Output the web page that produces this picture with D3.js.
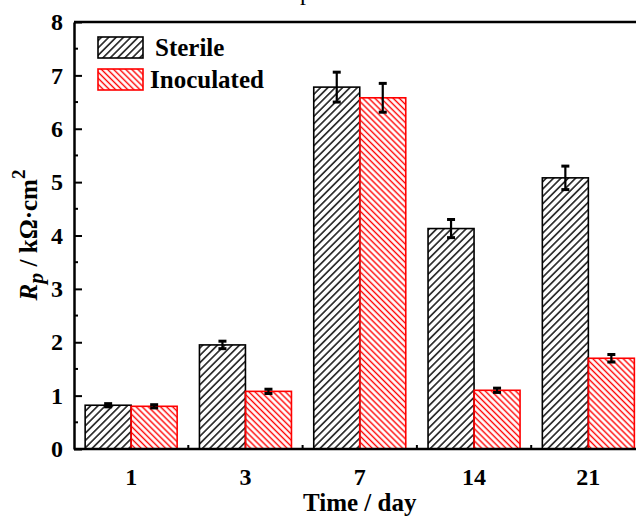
<!DOCTYPE html>
<html>
<head>
<meta charset="utf-8">
<script src="https://cdn.jsdelivr.net/npm/d3@7"></script>
<style>
  body { margin: 0; background: #fff; }
  svg { display: block; font-family: "Liberation Serif", "Times New Roman", serif; }
</style>
</head>
<body>
<svg id="chart" width="636" height="517"></svg>
<script>
// data
const days = ["1", "3", "7", "14", "21"];
const seriesNames = ["Sterile", "Inoculated"];
const sterile = [0.82, 1.95, 6.78, 4.13, 5.08];
const sterileErr = [0.03, 0.07, 0.28, 0.17, 0.22];
const inoculated = [0.80, 1.08, 6.58, 1.10, 1.70];
const inoculatedErr = [0.03, 0.04, 0.27, 0.04, 0.07];
const yTicks = [0, 1, 2, 3, 4, 5, 6, 7, 8];
const yMinorTicks = [0.5, 1.5, 2.5, 3.5, 4.5, 5.5, 6.5, 7.5];

const svg = d3.select("#chart");
const mLeft = 74, mTop = 22, mBottom = 449, mRight = 645.5;

// hatch patterns
const defs = svg.append("defs");
function hatch(id, color, size, angle) {
    const p = defs.append("pattern")
        .attr("id", id)
        .attr("patternUnits", "userSpaceOnUse")
        .attr("width", size).attr("height", size)
        .attr("patternTransform", `rotate(${angle})`);
    p.append("line")
        .attr("x1", size / 2).attr("y1", 0)
        .attr("x2", size / 2).attr("y2", size)
        .attr("stroke", color).attr("stroke-width", 1.4);
}
hatch("hatch-sterile", "#000", 5.2, 45);
hatch("hatch-inoc", "#ff0000", 4.3, -45);

const colors = {Sterile: "#000", Inoculated: "#ff0000"};
const fills = {Sterile: "url(#hatch-sterile)", Inoculated: "url(#hatch-inoc)"};

const x = d3.scaleBand().domain(days).range([mLeft, mRight])
    .paddingInner(0.195).paddingOuter(0.0975);
const xSub = d3.scaleBand().domain(seriesNames).range([0, x.bandwidth()]);
const y = d3.scaleLinear().domain([0, 8]).range([mBottom, mTop]);

// table built from the arrays
const rows = days.map((d, i) => [
    {day: d, name: "Sterile", v: sterile[i], e: sterileErr[i]},
    {day: d, name: "Inoculated", v: inoculated[i], e: inoculatedErr[i]}
]).flat();

// bars
svg.append("g").selectAll("rect")
    .data(rows)
    .join("rect")
    .attr("x", d => x(d.day) + xSub(d.name))
    .attr("y", d => y(d.v))
    .attr("width", xSub.bandwidth())
    .attr("height", d => y(0) - y(d.v))
    .attr("fill", d => fills[d.name])
    .attr("stroke", d => colors[d.name])
    .attr("stroke-width", 1.6);

// error bars
const eb = svg.append("g").attr("stroke", "#000");
rows.forEach(d => {
    const cx = x(d.day) + xSub(d.name) + xSub.bandwidth() / 2;
    eb.append("line")
        .attr("x1", cx).attr("x2", cx)
        .attr("y1", y(d.v + d.e)).attr("y2", y(d.v - d.e))
        .attr("stroke-width", 2.2);
    [d.v + d.e, d.v - d.e].forEach(v => {
        eb.append("line")
            .attr("x1", cx - 4).attr("x2", cx + 4)
            .attr("y1", y(v)).attr("y2", y(v))
            .attr("stroke-width", 3);
    });
});

// frame
svg.append("line").attr("x1", mLeft).attr("x2", mRight)
    .attr("y1", mTop).attr("y2", mTop)
    .attr("stroke", "#000").attr("stroke-width", 2.5);
svg.append("line").attr("x1", mRight).attr("x2", mRight)
    .attr("y1", mTop).attr("y2", mBottom)
    .attr("stroke", "#000").attr("stroke-width", 2.5);

// y axis
const yAxis = svg.append("g")
    .attr("transform", `translate(${mLeft},0)`)
    .call(d3.axisLeft(y).tickValues(yTicks).tickSize(-8)
        .tickSizeOuter(0).tickPadding(11));
yAxis.attr("font-family", null);
yAxis.select(".domain").attr("stroke-width", 2.5);
yAxis.selectAll(".tick line").attr("stroke-width", 2);
yAxis.selectAll(".tick text")
    .attr("font-size", 24).attr("font-weight", "bold").attr("fill", "#000");
svg.append("g").selectAll("line")
    .data(yMinorTicks)
    .join("line")
    .attr("x1", mLeft).attr("x2", mLeft + 4)
    .attr("y1", d => y(d)).attr("y2", d => y(d))
    .attr("stroke", "#000").attr("stroke-width", 2);

// x axis
const xAxis = svg.append("g")
    .attr("transform", `translate(0,${mBottom})`)
    .call(d3.axisBottom(x).tickSize(0).tickSizeOuter(0).tickPadding(36));
xAxis.attr("font-family", null);
xAxis.select(".domain").attr("stroke-width", 2.5)
    .attr("d", `M${mLeft},0H636`);
xAxis.selectAll(".tick text")
    .attr("dy", 0)
    .attr("font-size", 24).attr("font-weight", "bold").attr("fill", "#000");
// small ticks between groups
const gap = x.step() - x.bandwidth();
svg.append("g").selectAll("line")
    .data(days.slice(0, -1))
    .join("line")
    .attr("x1", d => x(d) + x.bandwidth() + gap / 2)
    .attr("x2", d => x(d) + x.bandwidth() + gap / 2)
    .attr("y1", mBottom).attr("y2", mBottom - 4)
    .attr("stroke", "#000").attr("stroke-width", 2);

// axis titles
svg.append("text")
    .attr("x", (mLeft + mRight) / 2).attr("y", 511)
    .attr("text-anchor", "middle")
    .attr("font-size", 25).attr("font-weight", "bold")
    .text("Time / day");

const yt = svg.append("text")
    .attr("transform", "translate(37,235) rotate(-90)")
    .attr("text-anchor", "middle")
    .attr("font-size", 25).attr("font-weight", "bold");
yt.append("tspan").attr("font-style", "italic").text("R");
yt.append("tspan").attr("font-style", "italic").attr("font-size", 22)
    .attr("dy", 6).text("p");
yt.append("tspan").attr("dy", -6).text(" / k\u03A9\u00B7cm");
yt.append("tspan").attr("font-size", 19).attr("dy", -12).text("2");

// cut-off title glyph at the top
svg.append("text").attr("x", 300).attr("y", 0)
    .attr("font-size", 24).text("p");

// legend
const legend = svg.append("g");
seriesNames.forEach((name, i) => {
    const g = legend.append("g").attr("transform", `translate(98,${37 + i * 32})`);
    g.append("rect").attr("width", 45).attr("height", 21)
        .attr("fill", fills[name]).attr("stroke", colors[name]).attr("stroke-width", 1.6);
    g.append("text").attr("x", name === "Sterile" ? 57 : 52).attr("y", 19)
        .attr("font-size", 25).attr("font-weight", "bold").text(name);
});
</script>
</body>
</html>
